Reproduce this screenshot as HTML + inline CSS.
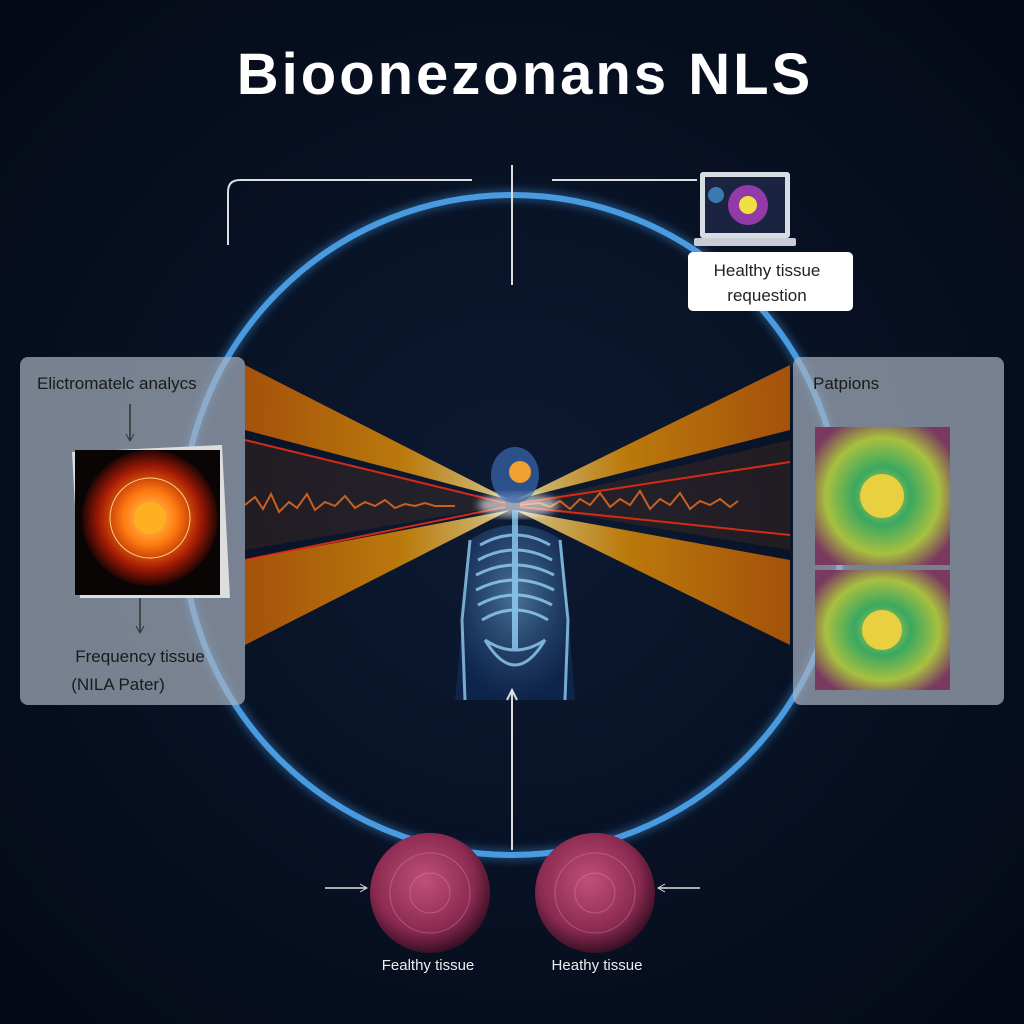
<!DOCTYPE html>
<html><head><meta charset="utf-8"><style>
html,body{margin:0;padding:0;width:1024px;height:1024px;overflow:hidden;background:#07101f}
svg{display:block}
text{font-family:"Liberation Sans",sans-serif}
</style></head><body>
<svg width="1024" height="1024" viewBox="0 0 1024 1024" xmlns="http://www.w3.org/2000/svg">
<defs>
<radialGradient id="bg" cx="50%" cy="50%" r="70%">
<stop offset="0" stop-color="#0c1a33"/><stop offset="1" stop-color="#040915"/></radialGradient>
<linearGradient id="beamL" x1="0" x2="1" y1="0" y2="0">
<stop offset="0" stop-color="#e06a00" stop-opacity="0.85"/><stop offset="0.6" stop-color="#ffa000" stop-opacity="0.85"/><stop offset="1" stop-color="#fff0a0" stop-opacity="0.95"/></linearGradient>
<linearGradient id="beamR" x1="1" x2="0" y1="0" y2="0">
<stop offset="0" stop-color="#e06a00" stop-opacity="0.85"/><stop offset="0.6" stop-color="#ffa000" stop-opacity="0.85"/><stop offset="1" stop-color="#fff0a0" stop-opacity="0.95"/></linearGradient>
<radialGradient id="sun" cx="50%" cy="50%" r="50%">
<stop offset="0" stop-color="#ffd060"/><stop offset="0.4" stop-color="#ff7a10"/><stop offset="0.75" stop-color="#a01a05"/><stop offset="1" stop-color="#200505"/></radialGradient>
<radialGradient id="pat" cx="50%" cy="50%" r="60%">
<stop offset="0" stop-color="#e0d040"/><stop offset="0.35" stop-color="#3aa860"/><stop offset="0.7" stop-color="#a8c040"/><stop offset="1" stop-color="#7a3a60"/></radialGradient>
<radialGradient id="tis" cx="45%" cy="40%" r="60%">
<stop offset="0" stop-color="#c05078"/><stop offset="0.7" stop-color="#8a2a50"/><stop offset="1" stop-color="#3a1025"/></radialGradient>
<radialGradient id="body" cx="50%" cy="40%" r="60%">
<stop offset="0" stop-color="#8ad0ff" stop-opacity="0.9"/><stop offset="1" stop-color="#1a4a9a" stop-opacity="0.5"/></radialGradient>
<filter id="gl"><feGaussianBlur stdDeviation="4"/></filter>
</defs>
<rect width="1024" height="1024" fill="url(#bg)"/>
<text x="525" y="94" font-size="58" font-weight="bold" fill="#fff" text-anchor="middle" letter-spacing="3">Bioonezonans NLS</text>

<circle cx="512" cy="525" r="330" fill="none" stroke="#3a8ad0" stroke-width="12" opacity="0.4" filter="url(#gl)"/>
<circle cx="512" cy="525" r="330" fill="none" stroke="#4a9ae0" stroke-width="6"/>

<path d="M228 245 V192 Q228 180 240 180 H472" fill="none" stroke="#ddd" stroke-width="2"/>
<line x1="512" y1="165" x2="512" y2="285" stroke="#ddd" stroke-width="2"/>
<line x1="552" y1="180" x2="697" y2="180" stroke="#ddd" stroke-width="2"/>
<rect x="700" y="172" width="90" height="66" rx="3" fill="#d8dde4"/>
<rect x="705" y="177" width="80" height="56" fill="#1a2440"/>
<circle cx="748" cy="205" r="20" fill="#b040c0" opacity="0.8"/>
<circle cx="748" cy="205" r="9" fill="#f0e040"/>
<circle cx="716" cy="195" r="8" fill="#3a7ab0"/>
<rect x="694" y="238" width="102" height="8" rx="2" fill="#c8ccd4"/>
<rect x="688" y="252" width="165" height="59" rx="5" fill="#fff"/>
<text x="767" y="276" font-size="17" fill="#222" text-anchor="middle">Healthy tissue</text>
<text x="767" y="301" font-size="17" fill="#222" text-anchor="middle">requestion</text>

<g opacity="0.85">
<polygon points="245,365 510,500 245,430" fill="url(#beamL)"/>
<polygon points="245,560 510,510 245,645" fill="url(#beamL)"/>
<polygon points="245,440 510,505 245,550" fill="#ff7000" opacity="0.12"/>
<polygon points="790,365 515,500 790,430" fill="url(#beamR)"/>
<polygon points="790,560 515,510 790,645" fill="url(#beamR)"/>
<polygon points="790,440 515,505 790,550" fill="#ff7000" opacity="0.12"/>
</g>
<g stroke="#ff3010" stroke-width="2" opacity="0.8">
<line x1="245" y1="440" x2="505" y2="503"/><line x1="245" y1="560" x2="505" y2="507"/>
<line x1="790" y1="462" x2="520" y2="503"/><line x1="790" y1="535" x2="520" y2="507"/>
</g>
<path d="M245 505 l10 -8 l8 12 l8 -15 l8 18 l10 -10 l8 6 l10 -14 l8 16 l10 -8 l10 4 l10 -10 l10 12 l10 -6 l10 4 l10 -6 l10 8 l10 -4 l10 2 l10 -3 l10 3 l20 0 M520 505 l20 -2 l10 4 l10 -6 l10 8 l10 -10 l10 6 l10 -12 l10 14 l10 -8 l10 6 l10 -14 l10 18 l10 -10 l10 6 l10 -12 l10 16 l10 -8 l10 4 l10 -6 l10 8 l8 -6" fill="none" stroke="#c86020" stroke-width="2"/>

<g>
<ellipse cx="518" cy="505" rx="40" ry="12" fill="#ffffff" opacity="0.6" filter="url(#gl)"/>
<ellipse cx="515" cy="475" rx="24" ry="28" fill="#3a6ab0" opacity="0.7"/>
<circle cx="520" cy="472" r="11" fill="#f0a030"/>
<path d="M470 540 Q515 510 562 540 L575 700 L455 700 Z" fill="url(#body)" opacity="0.55"/>
<g stroke="#9ad8ff" stroke-width="3" fill="none" opacity="0.75">
<path d="M480 545 Q515 525 550 545"/><path d="M478 560 Q515 540 552 560"/><path d="M476 575 Q515 555 554 575"/>
<path d="M476 590 Q515 570 554 590"/><path d="M478 605 Q515 585 552 605"/><path d="M482 620 Q515 600 548 620"/>
<line x1="515" y1="510" x2="515" y2="650" stroke-width="6"/>
<path d="M470 540 L462 620 L465 700"/><path d="M560 540 L568 620 L565 700"/>
<path d="M485 640 Q515 690 545 640 Q515 660 485 640"/>
</g>
</g>

<rect x="20" y="357" width="225" height="348" rx="8" fill="#a8b2c0" opacity="0.7"/>
<text x="37" y="389" font-size="17" fill="#1a1a1a">Elictromatelc analycs</text>
<line x1="130" y1="404" x2="130" y2="440" stroke="#333" stroke-width="1.5"/><path d="M126 434 L130 441 L134 434" fill="none" stroke="#333"/>
<polygon points="72,452 222,445 230,598 80,598" fill="#ddd"/>
<rect x="75" y="450" width="145" height="145" fill="#0a0505"/>
<circle cx="150" cy="518" r="68" fill="url(#sun)"/>
<circle cx="150" cy="518" r="40" fill="none" stroke="#ffcf80" stroke-width="1"/>
<circle cx="150" cy="518" r="16" fill="#ffb020"/>
<line x1="140" y1="598" x2="140" y2="632" stroke="#333" stroke-width="1.5"/><path d="M136 626 L140 633 L144 626" fill="none" stroke="#333"/>
<text x="140" y="662" font-size="17" fill="#1a1a1a" text-anchor="middle">Frequency tissue</text>
<text x="118" y="690" font-size="17" fill="#1a1a1a" text-anchor="middle">(NILA Pater)</text>

<rect x="793" y="357" width="211" height="348" rx="8" fill="#a8b2c0" opacity="0.7"/>
<text x="813" y="389" font-size="17" fill="#1a1a1a">Patpions</text>
<rect x="815" y="427" width="135" height="138" fill="url(#pat)"/>
<circle cx="882" cy="496" r="22" fill="#e8d040"/>
<rect x="815" y="570" width="135" height="120" fill="url(#pat)"/>
<circle cx="882" cy="630" r="20" fill="#e8d040"/>

<line x1="512" y1="850" x2="512" y2="692" stroke="#ddd" stroke-width="2"/><path d="M507 700 L512 690 L517 700" fill="none" stroke="#ddd" stroke-width="2"/>
<circle cx="430" cy="893" r="60" fill="url(#tis)"/>
<circle cx="595" cy="893" r="60" fill="url(#tis)"/>
<g stroke="#e090b0" stroke-width="1" opacity="0.4" fill="none">
<circle cx="430" cy="893" r="40"/><circle cx="430" cy="893" r="20"/>
<circle cx="595" cy="893" r="40"/><circle cx="595" cy="893" r="20"/>
</g>
<line x1="325" y1="888" x2="366" y2="888" stroke="#ddd" stroke-width="1.5"/><path d="M360 884 L367 888 L360 892" fill="none" stroke="#ddd"/>
<line x1="700" y1="888" x2="659" y2="888" stroke="#ddd" stroke-width="1.5"/><path d="M665 884 L658 888 L665 892" fill="none" stroke="#ddd"/>
<text x="428" y="970" font-size="15" fill="#eee" text-anchor="middle">Fealthy tissue</text>
<text x="597" y="970" font-size="15" fill="#eee" text-anchor="middle">Heathy tissue</text>
</svg>
</body></html>
